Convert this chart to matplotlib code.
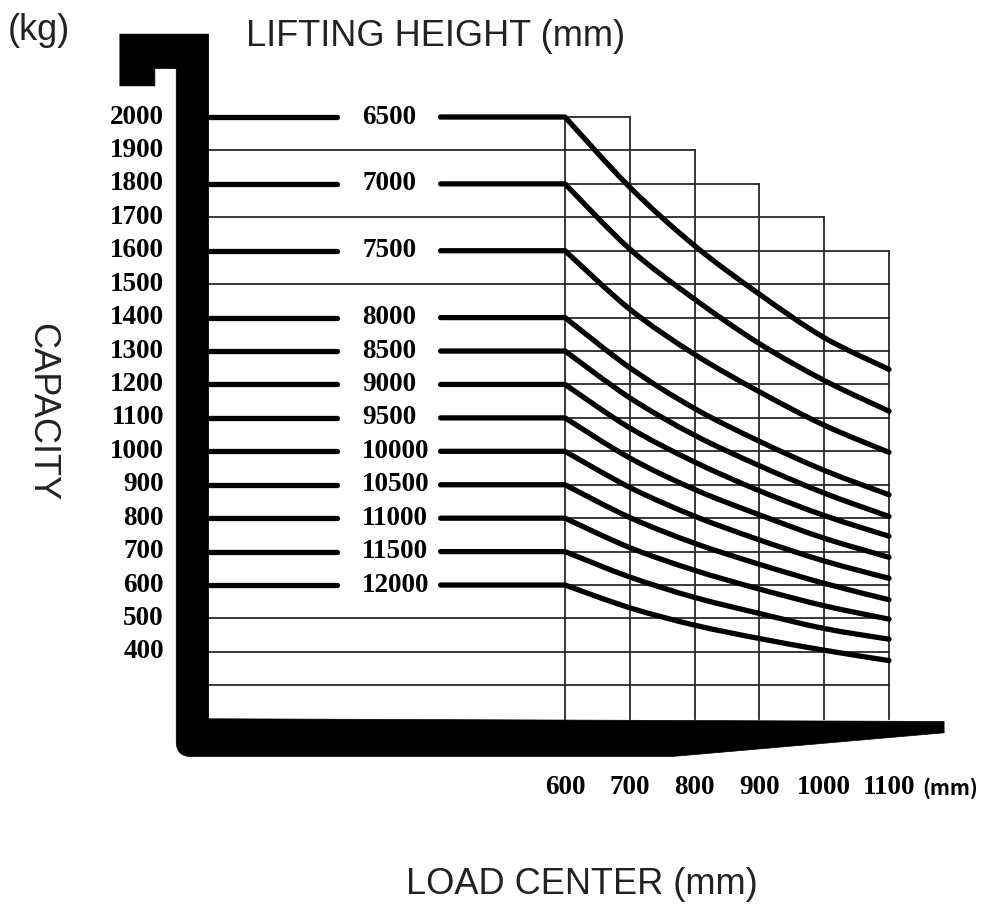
import matplotlib.pyplot as plt
from matplotlib.path import Path
from matplotlib.patches import PathPatch

# load center (mm) and capacity (kg)
load_centers = [600, 700, 800, 900, 1000, 1100]
lift_heights = [6500, 7000, 7500, 8000, 8500, 9000, 9500, 10000, 10500, 11000, 11500, 12000]
capacity = [
    [2000, 1790, 1615, 1470, 1340, 1245],
    [1800, 1605, 1455, 1322, 1212, 1120],
    [1600, 1425, 1290, 1178, 1078, 997],
    [1400, 1250, 1128, 1030, 943, 870],
    [1300, 1160, 1048, 957, 875, 805],
    [1200, 1070, 968, 882, 808, 746],
    [1100, 980, 886, 810, 740, 683],
    [1000, 892, 806, 735, 672, 620],
    [900, 802, 725, 662, 605, 556],
    [800, 712, 644, 588, 538, 498],
    [700, 624, 563, 515, 470, 438],
    [600, 532, 480, 440, 405, 374],
]
y_ticks = list(range(2000, 300, -100))
grid_levels = list(range(300, 2100, 100))
column_tops = [2000, 2000, 1900, 1800, 1700, 1600]

num_font = dict(family='Liberation Serif', weight='bold', size=19.5)
title_font = dict(family='Liberation Sans', size=26, color='#222222')

fig = plt.figure(figsize=(9.82, 9.10), dpi=100)
ax = fig.add_axes([0, 0, 1, 1])
ax.set_xlim(-272, 1243.5)
ax.set_ylim(-372, 2350)
ax.axis('off')

bar_x = 50      # inner edge of the mast
floor_y = 200   # top of the fork blade
rated = [row[0] for row in capacity]


def smooth_path(xs, ys, lead_x):
    # flat lead-in, then a catmull-rom curve through the read points
    pts = list(zip(xs, ys))
    verts = [(lead_x, ys[0]), pts[0]]
    codes = [Path.MOVETO, Path.LINETO]
    n = len(pts)
    for i in range(n - 1):
        p0 = pts[max(i - 1, 0)]
        p1, p2 = pts[i], pts[i + 1]
        p3 = pts[min(i + 2, n - 1)]
        c1 = (p1[0] + (p2[0] - p0[0]) / 6, p1[1] + (p2[1] - p0[1]) / 6)
        c2 = (p2[0] - (p3[0] - p1[0]) / 6, p2[1] - (p3[1] - p1[1]) / 6)
        verts += [c1, c2, p2]
        codes += [Path.CURVE4] * 3
    return Path(verts, codes)


# thin grid
for x, top in zip(load_centers, column_tops):
    ax.plot([x, x], [floor_y, top], color='#2a2a2a', lw=1.3, zorder=1)
for y in grid_levels:
    right = max(x for x, t in zip(load_centers, column_tops) if t >= y)
    left = load_centers[0] if y in rated else bar_x
    ax.plot([left, right], [y, y], color='#2a2a2a', lw=1.3, zorder=1)

# capacity lines per lifting height
for h, row in zip(lift_heights, capacity):
    c0 = row[0]
    ax.plot([bar_x, 248], [c0, c0], color='black', lw=3.8,
            solid_capstyle='round', zorder=3)
    ax.add_patch(PathPatch(smooth_path(load_centers, row, 408), fill=False,
                           edgecolor='black', lw=3.8, capstyle='round',
                           joinstyle='round', zorder=3))
    ax.text(287, c0, str(h), ha='left', va='center', **num_font)

# mast + fork silhouette
verts = [(-87, 2248), (50, 2248), (50, 200), (1185, 192), (1185, 158),
         (765, 87), (23, 87), (0, 87), (0, 132), (0, 2145), (-33, 2145),
         (-33, 2093), (-87, 2093), (-87, 2248)]
codes = [Path.MOVETO, Path.LINETO, Path.LINETO, Path.LINETO, Path.LINETO,
         Path.LINETO, Path.LINETO, Path.CURVE3, Path.CURVE3, Path.LINETO,
         Path.LINETO, Path.LINETO, Path.LINETO, Path.CLOSEPOLY]
ax.add_patch(PathPatch(Path(verts, codes), facecolor='black', edgecolor='black',
                       lw=0.5, zorder=4))

# tick labels
for v in y_ticks:
    ax.text(-19, v, str(v), ha='right', va='center', **num_font)
for x in load_centers:
    ax.text(x, -7, str(x), ha='center', va='center', **num_font)
fig.text(978 / 982, 1 - 788 / 910, '(mm)', ha='right', va='center',
         family=['Noto Sans CJK SC', 'DejaVu Sans'], weight='bold', size=15)

# titles
fig.text(39 / 982, 1 - 30 / 910, '(kg)', ha='center', va='center', **title_font)
fig.text(436 / 982, 1 - 36 / 910, 'LIFTING HEIGHT (mm)', ha='center', va='center', **title_font)
fig.text(582 / 982, 1 - 885 / 910, 'LOAD CENTER (mm)', ha='center', va='center', **title_font)
fig.text(42 / 982, 1 - 412 / 910, 'CAPACITY', ha='center', va='center',
         rotation=270, **title_font)

fig.savefig('out.png', dpi=100)
